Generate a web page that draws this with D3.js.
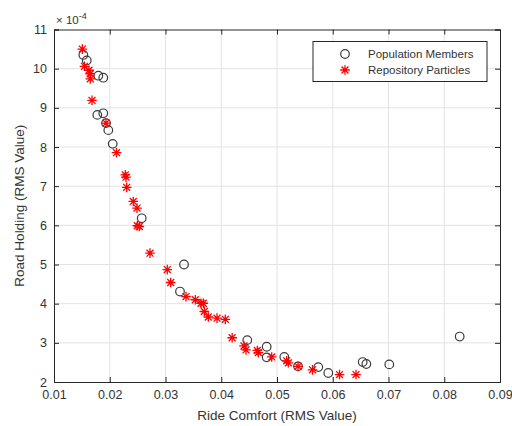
<!DOCTYPE html>
<html>
<head>
<meta charset="utf-8">
<script src="https://cdn.jsdelivr.net/npm/d3@7"></script>
<style>
  body { margin: 0; background: #fff; }
  svg text { font-family: "Liberation Sans", Arial, sans-serif; fill: #333; }
</style>
</head>
<body>
<div id="chart"></div>
<script>
// population members (circles)
var popX = [0.01526, 0.01587, 0.01795, 0.01884, 0.01777, 0.01884, 0.01933, 0.01974, 0.02053,
  0.02573, 0.03332, 0.0326, 0.04467, 0.04815, 0.04815, 0.05131, 0.05377, 0.05741, 0.0592,
  0.06537, 0.06602, 0.07014, 0.08277]
var popY = [10.35, 10.21, 9.82, 9.77, 8.82, 8.86, 8.61, 8.43, 8.08,
  6.18, 5.0, 4.31, 3.07, 2.90, 2.63, 2.64, 2.40, 2.38, 2.23,
  2.51, 2.46, 2.45, 3.16]

// repository particles (stars)
var repX = [0.01508, 0.01547, 0.01628, 0.01651, 0.01651, 0.01682, 0.01933, 0.02121, 0.02279,
  0.02292, 0.02304, 0.02422, 0.02489, 0.02494, 0.0253, 0.02722, 0.03032, 0.03093, 0.03368,
  0.03535, 0.03637, 0.03678, 0.03696, 0.03768, 0.03924, 0.04073, 0.04196, 0.04408, 0.04444,
  0.04647, 0.04665, 0.04905, 0.05174, 0.05203, 0.05377, 0.05637, 0.06121, 0.06417]
var repY = [10.50, 10.06, 9.96, 9.87, 9.74, 9.19, 8.61, 7.855, 7.29,
  7.23, 6.97, 6.61, 6.44, 5.99, 5.97, 5.29, 4.87, 4.54, 4.18,
  4.10, 4.01, 4.01, 3.80, 3.66, 3.63, 3.60, 3.13, 2.92, 2.82,
  2.805, 2.75, 2.64, 2.54, 2.49, 2.40, 2.31, 2.19, 2.19]

var xTicks = [0.01, 0.02, 0.03, 0.04, 0.05, 0.06, 0.07, 0.08, 0.09]
var yTicks = [2, 3, 4, 5, 6, 7, 8, 9, 10, 11]
var legendLabels = ["Population Members", "Repository Particles"]

var width = 512, height = 426
var margin = {top: 29.5, right: 12, bottom: 44, left: 54}

var svg = d3.select("#chart").append("svg")
  .attr("width", width)
  .attr("height", height)

var x = d3.scaleLinear().domain([0.01, 0.09]).range([margin.left, width - margin.right])
var y = d3.scaleLinear().domain([2, 11]).range([height - margin.bottom, margin.top])

var g = svg.append("g")

// grid
g.selectAll(".gx").data(xTicks.slice(1, -1)).enter().append("line")
  .attr("x1", x).attr("x2", x)
  .attr("y1", y(2)).attr("y2", y(11))
  .attr("stroke", "#e3e3e3").attr("stroke-width", 1)
g.selectAll(".gy").data(yTicks.slice(1, -1)).enter().append("line")
  .attr("y1", y).attr("y2", y)
  .attr("x1", x(0.01)).attr("x2", x(0.09))
  .attr("stroke", "#e3e3e3").attr("stroke-width", 1)

// axes, ticks inward like matlab
var axB = d3.axisBottom(x).tickValues(xTicks).tickSize(-5).tickPadding(8)
  .tickFormat(function(d) { return String(+d.toFixed(2)) })
var axT = d3.axisTop(x).tickValues(xTicks).tickSize(-5).tickFormat("")
var axL = d3.axisLeft(y).tickValues(yTicks).tickSize(-5).tickPadding(7)
var axR = d3.axisRight(y).tickValues(yTicks).tickSize(-5).tickFormat("")

function styleAxis(sel) {
  sel.select(".domain").attr("stroke", "#262626")
  sel.selectAll(".tick line").attr("stroke", "#262626")
  sel.selectAll("text").attr("font-size", 12.5).attr("fill", "#333")
    .attr("font-family", "'Liberation Sans', Arial, sans-serif")
}

svg.append("g").attr("transform", "translate(0," + y(2) + ")").call(axB).call(styleAxis)
svg.append("g").attr("transform", "translate(0," + y(11) + ")").call(axT).call(styleAxis)
svg.append("g").attr("transform", "translate(" + x(0.01) + ",0)").call(axL).call(styleAxis)
svg.append("g").attr("transform", "translate(" + x(0.09) + ",0)").call(axR).call(styleAxis)

// exponent label
var ex = svg.append("text").attr("x", x(0.01) + 2).attr("y", y(11) - 6)
  .attr("font-size", 11.5)
ex.append("tspan").text("\u00d7 10")
ex.append("tspan").attr("dy", -5).attr("font-size", 9).text("-4")

// axis labels
svg.append("text").attr("x", (x(0.01) + x(0.09)) / 2).attr("y", 420)
  .attr("text-anchor", "middle").attr("font-size", 13.5)
  .text("Ride Comfort (RMS Value)")
svg.append("text")
  .attr("transform", "translate(24," + ((y(2) + y(11)) / 2) + ") rotate(-90)")
  .attr("text-anchor", "middle").attr("font-size", 13.5)
  .text("Road Holding (RMS Value)")

// markers
var star = function(sel, s) {
  sel.append("path")
    .attr("d", "M" + (-s) + ",0H" + s + "M0," + (-s) + "V" + s +
      "M" + (-s * 0.72) + "," + (-s * 0.72) + "L" + (s * 0.72) + "," + (s * 0.72) +
      "M" + (-s * 0.72) + "," + (s * 0.72) + "L" + (s * 0.72) + "," + (-s * 0.72))
    .attr("stroke", "#ff0000").attr("stroke-width", 1.3).attr("fill", "none")
}

var pop = d3.range(popX.length)
g.selectAll(".pop").data(pop).enter().append("circle")
  .attr("cx", function(i) { return x(popX[i]) })
  .attr("cy", function(i) { return y(popY[i]) })
  .attr("r", 4.3)
  .attr("fill", "none").attr("stroke", "#3c3c3c").attr("stroke-width", 1.2)

var rep = d3.range(repX.length)
g.selectAll(".rep").data(rep).enter().append("g")
  .attr("transform", function(i) { return "translate(" + x(repX[i]) + "," + y(repY[i]) + ")" })
  .each(function() { star(d3.select(this), 4.8) })

// legend
var lg = svg.append("g").attr("transform", "translate(313,41.5)")
lg.append("rect").attr("width", 174).attr("height", 40)
  .attr("fill", "#fff").attr("stroke", "#262626").attr("stroke-width", 1)
lg.append("circle").attr("cx", 32).attr("cy", 12.5).attr("r", 4.3)
  .attr("fill", "none").attr("stroke", "#3c3c3c").attr("stroke-width", 1.2)
star(lg.append("g").attr("transform", "translate(32,28.5)"), 4.8)
lg.selectAll(".lt").data(legendLabels).enter().append("text")
  .attr("x", 55).attr("y", function(d, i) { return 16.5 + i * 16 })
  .attr("font-size", 11.5)
  .text(function(d) { return d })
</script>
</body>
</html>
